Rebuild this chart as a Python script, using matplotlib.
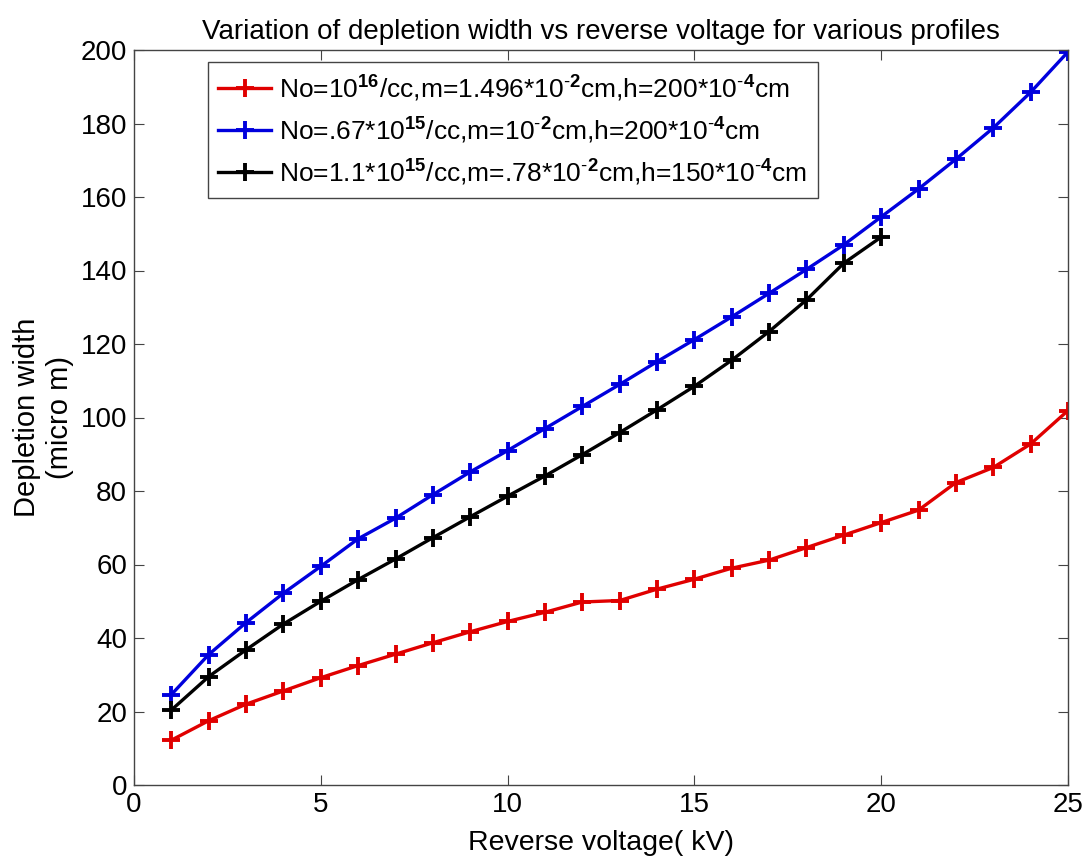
"""
Depletion width vs reverse voltage for three doping profiles
"""
import matplotlib
matplotlib.use("Agg")
import matplotlib.pyplot as plt

plt.rcParams['font.family'] = ['Liberation Sans', 'DejaVu Sans']
plt.rcParams['mathtext.fontset'] = 'custom'
plt.rcParams['mathtext.rm'] = 'Liberation Sans'
plt.rcParams['mathtext.bf'] = 'Liberation Sans:bold'

# reverse voltage (kV)
volts_long = list(range(1, 26))
volts_short = list(range(1, 21))

# depletion width (micro m)
width_red = [12.2, 17.5, 22, 25.6, 29.2, 32.5, 35.6, 38.7, 41.7, 44.5,
             47, 49.8, 50.2, 53.3, 56, 59, 61.2, 64.6, 68, 71.4,
             74.8, 82.3, 86.4, 92.8, 101.9]
width_blue = [24.6, 35.5, 44.2, 52.2, 59.5, 67, 72.6, 79, 85.2, 91,
              97, 103, 109, 115.2, 121.2, 127.4, 133.8, 140.3, 147, 154.6,
              162.2, 170.3, 178.8, 188.5, 199.5]
width_black = [20.4, 29.5, 36.8, 43.8, 50, 55.9, 61.5, 67.3, 73, 78.6,
               84.1, 89.9, 95.9, 102.1, 108.5, 115.6, 123.4, 132, 142, 149.1]

labels = [
    r'No=10$^{\mathbf{16}}$/cc,m=1.496*10$^{\mathbf{\text{-}2}}$cm,'
    r'h=200*10$^{\mathbf{\text{-}4}}$cm',
    r'No=.67*10$^{\mathbf{15}}$/cc,m=10$^{\mathbf{\text{-}2}}$cm,'
    r'h=200*10$^{\mathbf{\text{-}4}}$cm',
    r'No=1.1*10$^{\mathbf{15}}$/cc,m=.78*10$^{\mathbf{\text{-}2}}$cm,'
    r'h=150*10$^{\mathbf{\text{-}4}}$cm',
]

fig = plt.figure(figsize=(10.88, 8.61), dpi=100)
ax = fig.add_axes([134 / 1088, 1 - 785 / 861, 934 / 1088, 735 / 861])

style = dict(marker='+', markersize=13, markeredgewidth=2.8, linewidth=2.4)
ax.plot(volts_long, width_red, color='#e00000', label=labels[0], **style)
ax.plot(volts_long, width_blue, color='#0000dd', label=labels[1], **style)
ax.plot(volts_short, width_black, color='black', label=labels[2], **style)

ax.set_xlim(0, 25)
ax.set_ylim(0, 200)
ax.set_xticks(range(0, 26, 5))
ax.set_yticks(range(0, 201, 20))
ax.tick_params(direction='in', top=True, right=True, labelsize=20,
               length=7, width=0.8, colors='#444444', labelcolor='black',
               pad=5)
for spine in ax.spines.values():
    spine.set_color('#444444')
    spine.set_linewidth(1.0)

ax.set_xlabel('Reverse voltage( kV)', fontsize=20.5, labelpad=9)
ax.set_ylabel('Depletion width\n(micro m)', fontsize=21, labelpad=5,
              linespacing=1.2)
ax.set_title('Variation of depletion width vs reverse voltage for various profiles',
             fontsize=20, pad=8)

leg = ax.legend(loc='upper left', bbox_to_anchor=(0.079, 0.984), fontsize=19,
                fancybox=False, framealpha=1, edgecolor='#444444',
                handlelength=2.0, borderpad=0.4, labelspacing=0.42,
                handletextpad=0.3, borderaxespad=0)
leg.get_frame().set_linewidth(1.0)

fig.savefig('out.png', dpi=100)
